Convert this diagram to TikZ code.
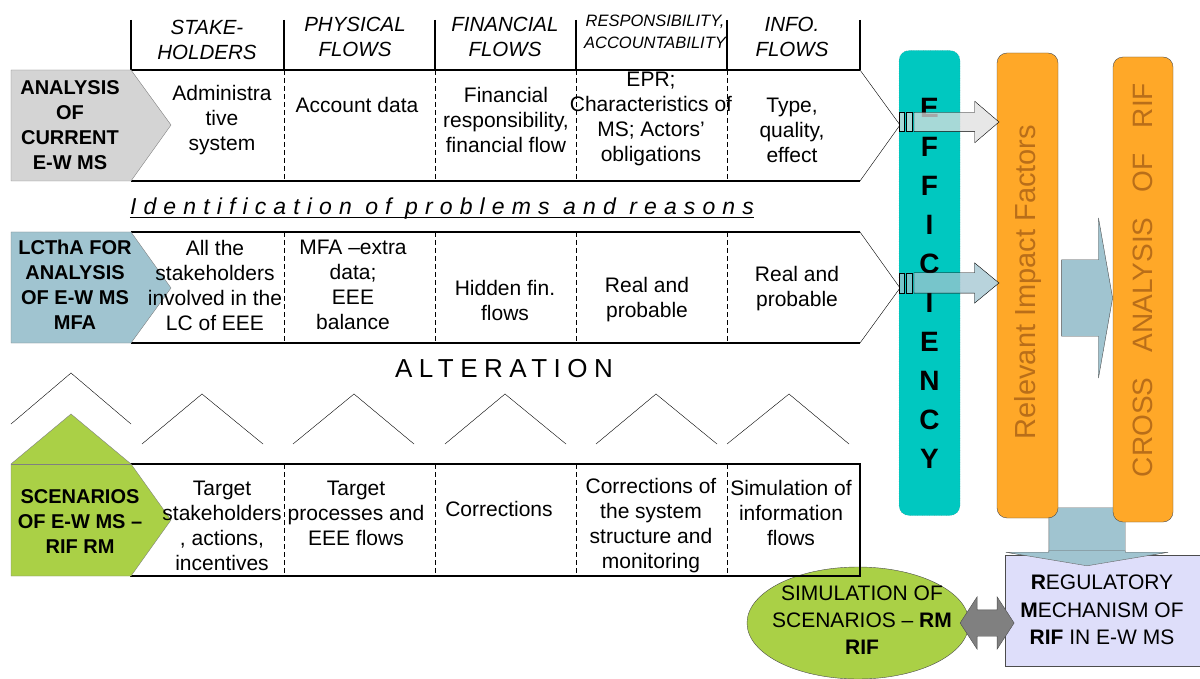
\documentclass[tikz,border=0pt]{standalone}
\usepackage{fontspec}
\setmainfont{Liberation Sans}
\newfontfamily\spacedfont[LetterSpace=31]{Liberation Sans}
\newfontfamily\altfont[LetterSpace=25]{Liberation Sans}
\usetikzlibrary{shapes.geometric,shapes.arrows,calc}
\definecolor{grayfill}{RGB}{212,212,212}
\definecolor{bluefill}{RGB}{160,196,208}
\definecolor{greenfill}{RGB}{170,208,70}
\definecolor{effteal}{RGB}{0,200,192}
\definecolor{orangefill}{RGB}{255,168,40}
\definecolor{riftext}{RGB}{185,110,25}
\definecolor{regfill}{RGB}{222,222,250}

\begin{document}
\begin{tikzpicture}[x=1pt,y=-1pt,
    cell/.style={align=center, inner sep=0pt, font=\fontsize{21}{25}\selectfont},
    head/.style={cell, font=\fontsize{20.5}{25}\selectfont\itshape},
    lab/.style={cell, font=\fontsize{20}{25}\selectfont\bfseries},
    rowline/.style={line width=2.2pt},
    sep/.style={line width=0.9pt, dash pattern=on 5pt off 3pt},
    column/.style={draw=black!70, rounded corners=10pt, minimum width=61pt, minimum height=465pt, inner sep=0pt},
    blockarrow/.style={single arrow, draw=black, inner xsep=0pt, single arrow head indent=0pt}]
    \useasboundingbox (0,0) rectangle (1200,679);

    % Column heads
    \foreach \x in {131,284,435,576,727,860}
        \draw[line width=2pt] (\x,20) -- (\x,70);
    \node[head] (hStake) at (207,40) {STAKE-\\HOLDERS};
    \node[head] (hPhys) at (355,37) {PHYSICAL\\FLOWS};
    \node[head] (hFin) at (505,37) {FINANCIAL\\FLOWS};
    \node[head, font=\fontsize{16.5}{22}\selectfont\itshape] (hResp) at (655,32) {RESPONSIBILITY,\\ACCOUNTABILITY};
    \node[head] (hInfo) at (792,37) {INFO.\\FLOWS};

    % Row 1: analysis of current system
    \draw[rowline] (131,70) -- (860,70) (131,181) -- (860,181);
    \draw (860,70) -- (900,125) -- (860,181);
    \foreach \x in {284,435,576,727}
        \draw[sep] (\x,70) -- (\x,181);
    \draw[draw=gray, fill=grayfill] (11,70) -- (131,70) -- (171,125) -- (131,181) -- (11,181) -- cycle;
    \coordinate (tip1) at (900,123);
    \node[lab] (lblCurrent) at (70,125) {ANALYSIS\\OF\\CURRENT\\E-W MS};
    \node[cell] (adm) at (222,120) {Administra\\tive\\system};
    \node[cell] (acc) at (357,105) {Account data};
    \node[cell] (finResp) at (506,120) {Financial\\responsibility,\\financial flow};
    \node[cell] (epr) at (651,119) {EPR;\\Characteristics of\\MS; Actors'\\obligations};
    \node[cell] (type) at (792,130) {Type,\\quality,\\effect};

    % Identification line
    \node[inner sep=0pt, anchor=base, font=\spacedfont\itshape\fontsize{23}{26}\selectfont] (ident) at (442,215) {Identification of problems and reasons};
    \draw[line width=1.5pt] ($(ident.base west)+(0,2.5)$) -- ($(ident.base east)+(0,2.5)$);

    % Row 2: LCThA
    \draw[rowline] (131,232) -- (860,232) (131,343) -- (860,343);
    \draw (860,232) -- (900,288) -- (860,343);
    \foreach \x in {284,435,576,727}
        \draw[sep] (\x,232) -- (\x,343);
    \draw[draw=gray, fill=bluefill] (11,232) -- (131,232) -- (171,288) -- (131,343) -- (11,343) -- cycle;
    \coordinate (tip2) at (900,284);
    \node[lab] (lblLca) at (75,285) {LCThA FOR\\ANALYSIS\\OF E-W MS\\MFA};
    \node[cell] (allSt) at (215,285) {All the\\stakeholders\\involved in the\\LC of EEE};
    \node[cell] (mfa) at (353,285) {MFA –extra\\data;\\EEE\\balance};
    \node[cell] (hidden) at (505,300) {Hidden fin.\\flows};
    \node[cell] (real1) at (647,300) {Real and\\probable};
    \node[cell] (real2) at (797,289) {Real and\\probable};

    % Alteration
    \node[inner sep=0pt, anchor=base, font=\altfont\fontsize{26}{30}\selectfont] (alter) at (504,377) {ALTERATION};
    \draw (11,424) -- (71,373) -- (131,424);
    \foreach \l/\p/\r in {142/202/263, 293/354/414, 445/505/566, 596/656/717, 727/789/849}
        \draw (\l,444) -- (\p,394) -- (\r,444);

    % Simulation ellipse (behind row 3)
    \node[ellipse, draw=black!70, fill=greenfill, minimum width=222pt, minimum height=112pt, inner sep=0pt] (sim) at (858,623) {};
    \node[cell, font=\fontsize{21}{27}\selectfont] (simText) at (862,620) {SIMULATION OF\\SCENARIOS – \textbf{RM}\\\textbf{RIF}};

    % Row 3: scenarios
    \draw[rowline] (131,464) rectangle (860,576);
    \foreach \x in {284,435,576,727}
        \draw[sep] (\x,464) -- (\x,576);
    \draw[draw=gray, fill=greenfill] (11,576) -- (11,464) -- (71,414) -- (131,464) -- (171,520) -- (131,576) -- cycle;
    \draw[gray] (11,464) -- (131,464);
    \node[lab] (lblScen) at (80,522) {SCENARIOS\\OF E-W MS –\\RIF RM};
    \node[cell] (tgtSt) at (222,526) {Target\\stakeholders\\, actions,\\incentives};
    \node[cell] (tgtPr) at (356,513) {Target\\processes and\\EEE flows};
    \node[cell] (corr) at (499,509) {Corrections};
    \node[cell] (corrSys) at (651,526) {Corrections of\\the system\\structure and\\monitoring};
    \node[cell] (simInfo) at (791,513) {Simulation of\\information\\flows};

    % Down arrow to the mechanism (behind the columns)
    \node[blockarrow, draw=black!60, fill=bluefill, rotate=-90, inner ysep=38pt, single arrow head extend=43pt,
          single arrow tip angle=161, minimum height=58pt, anchor=tip] (toReg) at (1087,566) {};

    % Columns
    \node[column, fill=effteal, draw=black!60, dotted, align=center,
          font=\fontsize{28}{39}\selectfont\bfseries] (eff) at (929.5,283) {E\\F\\F\\I\\C\\I\\E\\N\\C\\Y};
    \node[column, fill=orangefill] (rif) at (1027.5,285.5) {};
    \node[rotate=90, text=riftext, font=\fontsize{29}{32}\selectfont] (rifText) at (1028,282) {Relevant Impact Factors};
    \node[column, minimum width=60pt, fill=orangefill] (cross) at (1143,289.5) {};
    \node[rotate=90, text=riftext, font=\fontsize{28}{32}\selectfont] (crossText) at (1143,280)
          {CROSS\hspace{0.9em}ANALYSIS\hspace{0.9em}OF\hspace{0.9em}RIF};

    % Arrows into the factors
    \draw[fill=gray!25, fill opacity=0.75] (899,112) rectangle (904,131) (906,112) rectangle (912,131);
    \node[blockarrow, fill=gray!25, fill opacity=0.75, inner ysep=9.5pt, single arrow head extend=11pt,
          single arrow tip angle=81, minimum height=85pt, anchor=tip] (toRif1) at ($(rif.west |- tip1)+(2.5,-1)$) {};
    \draw[fill=bluefill, fill opacity=0.75] (899,273) rectangle (904,293) (906,273) rectangle (912,293);
    \node[blockarrow, fill=bluefill, fill opacity=0.75, inner ysep=10pt, single arrow head extend=10pt,
          single arrow tip angle=79, minimum height=85pt, anchor=tip] (toRif2) at ($(rif.west |- tip2)+(2.5,-1)$) {};
    \node[blockarrow, draw=black!70, fill=bluefill, inner ysep=38pt, single arrow head extend=42pt,
          single arrow tip angle=160, minimum height=51pt, anchor=tip] (toCross) at (cross.west |- 0,298) {};

    % Regulatory mechanism
    \node[draw=black!70, fill=regfill, minimum width=196pt, minimum height=111pt, inner sep=0pt,
          anchor=north west] (reg) at (1005,555) {};
    \node[cell, font=\fontsize{21}{27.5}\selectfont] (regText) at (1102,610)
          {\textbf{R}EGULATORY\\\textbf{M}ECHANISM OF\\\textbf{RIF} IN E-W MS};
    \node[blockarrow, draw=black!60, fill=bluefill, rotate=-90, inner ysep=38pt, single arrow head extend=43pt,
          single arrow tip angle=161, minimum height=15pt, anchor=tip] (toRegHead) at (toReg.tip) {};
    \node[double arrow, draw=black!70, fill=gray, inner xsep=0pt, inner ysep=13pt, double arrow head extend=13pt,
          double arrow tip angle=114, minimum height=54pt] (link) at ($(sim.east)!0.5!(reg.west |- sim.east)$) {};
\end{tikzpicture}
\end{document}
